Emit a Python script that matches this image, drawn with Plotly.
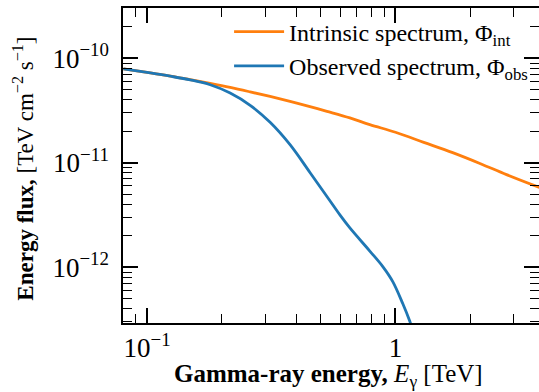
import plotly.graph_objects as go

# Data (energy in TeV, energy flux in TeV cm^-2 s^-1)
energy_int = [0.0803, 0.1031, 0.1241, 0.1492, 0.1795, 0.2160, 0.2600, 0.3128,
              0.3763, 0.4526, 0.5298, 0.6554, 0.7885, 1.0, 1.30, 1.70, 2.20, 2.80, 3.80]
flux_int = [7.91e-11, 7.25e-11, 6.76e-11, 6.25e-11, 5.75e-11, 5.26e-11, 4.77e-11,
            4.31e-11, 3.87e-11, 3.45e-11, 3.11e-11, 2.69e-11, 2.32e-11, 1.96e-11,
            1.57e-11, 1.25e-11, 9.8e-12, 7.7e-12, 5.8e-12]

energy_obs = [0.0803, 0.1031, 0.1241, 0.1492, 0.1795, 0.2160, 0.2600, 0.3128,
              0.3763, 0.4526, 0.5298, 0.5975, 0.6554, 0.7885, 0.8893, 0.9754,
              1.0698, 1.1414, 1.1955]
flux_obs = [7.90e-11, 7.23e-11, 6.73e-11, 6.21e-11, 5.58e-11, 4.65e-11, 3.55e-11,
            2.44e-11, 1.49e-11, 8.08e-12, 4.76e-12, 3.17e-12, 2.38e-12, 1.43e-12,
            1.016e-12, 7.30e-13, 4.50e-13, 3.06e-13, 2.20e-13]

x_tickvals = [0.1, 1]
x_ticktext = ["10<sup>−1</sup>", "1"]
y_tickvals = [1e-12, 1e-11, 1e-10]
y_ticktext = ["10<sup>−12</sup>&nbsp;", "10<sup>−11</sup>&nbsp;", "10<sup>−10</sup>&nbsp;"]

x_minor = [0.08, 0.09] + [k * 0.1 for k in range(2, 10)] + [2, 3]
y_minor = [k * 1e-13 for k in range(3, 10)] + [k * 1e-12 for k in range(2, 10)] + \
          [k * 1e-11 for k in range(2, 10)] + [2e-10, 3e-10]

FONT = "Liberation Serif"

fig = go.Figure()
fig.add_trace(go.Scatter(x=energy_int, y=flux_int, mode="lines",
                         name="Intrinsic spectrum, Φ<sub>int</sub>",
                         line=dict(color="#ff7f0e", width=2.8, shape="spline", smoothing=1.0)))
fig.add_trace(go.Scatter(x=energy_obs, y=flux_obs, mode="lines",
                         name="Observed spectrum, Φ<sub>obs</sub>",
                         line=dict(color="#1f77b4", width=2.8, shape="spline", smoothing=1.0)))

axis_common = dict(showline=True, linecolor="black", linewidth=1.8, mirror="ticks",
                   ticks="inside", ticklen=15, tickwidth=1.5, tickcolor="black",
                   showgrid=False, zeroline=False,
                   tickfont=dict(family=FONT, size=27, color="black"))

fig.update_xaxes(type="log", range=[-1.097, 0.578], tickmode="array",
                 tickvals=x_tickvals, ticktext=x_ticktext,
                 minor=dict(tickmode="array", tickvals=x_minor, ticks="inside",
                            ticklen=9, tickwidth=1.2, tickcolor="black"),
                 **axis_common)
fig.update_yaxes(type="log", range=[-12.533, -9.519], tickmode="array",
                 tickvals=y_tickvals, ticktext=y_ticktext,
                 minor=dict(tickmode="array", tickvals=y_minor, ticks="inside",
                            ticklen=9, tickwidth=1.2, tickcolor="black"),
                 **axis_common)

fig.update_layout(
    width=539, height=392,
    margin=dict(l=123, r=0, t=8, b=69, autoexpand=False),
    plot_bgcolor="white", paper_bgcolor="white",
    font=dict(family=FONT, color="black"),
    showlegend=True,
    legend=dict(x=0.255, y=0.995, xanchor="left", yanchor="top",
                bgcolor="rgba(0,0,0,0)", borderwidth=0, itemwidth=50,
                font=dict(family=FONT, size=24, color="black"),
                tracegroupgap=0),
    annotations=[
        dict(text="<b>Gamma-ray energy,</b> <i>E</i><sub>γ</sub> [TeV]",
             xref="paper", yref="paper", x=0.494, y=-0.168,
             xanchor="center", yanchor="middle", showarrow=False,
             font=dict(family=FONT, size=25, color="black")),
        dict(text="<b>Energy flux,</b> [TeV cm<sup>−2</sup> s<sup>−1</sup>]",
             xref="paper", yref="paper", x=-0.238, y=0.49, textangle=-90,
             xanchor="center", yanchor="middle", showarrow=False,
             font=dict(family=FONT, size=23, color="black")),
    ],
)

fig.write_html("out.html")
